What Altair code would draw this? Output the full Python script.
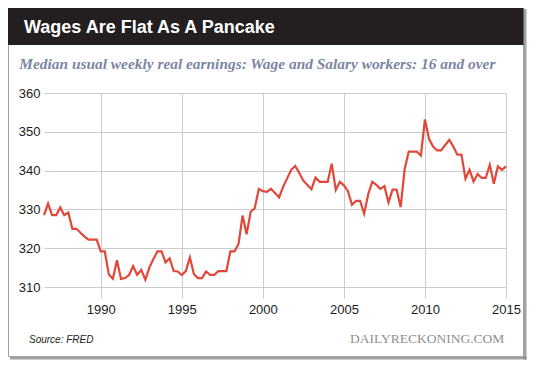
import altair as alt
import pandas as pd

# Median usual weekly real earnings, quarterly, starting 1986 Q3
start_year = 1986.5
earnings = [
    328.5, 331.5, 328.5, 328.5, 330.5, 328.5, 329.2, 325.0, 325.0, 324.0,
    323.0, 322.2, 322.2, 322.2, 319.2, 319.2, 313.2, 312.1, 316.9, 312.1,
    312.3, 313.1, 315.4, 313.1, 314.4, 311.9, 315.0, 317.2, 319.2, 319.2,
    316.3, 317.4, 314.1, 314.0, 313.1, 314.1, 317.6, 313.3, 312.3, 312.3,
    314.0, 313.1, 313.1, 314.1, 314.1, 314.1, 319.2, 319.2, 321.1, 328.4,
    323.6, 329.4, 330.3, 335.3, 334.7, 334.5, 335.3, 334.2, 333.1, 335.8,
    338.0, 340.2, 341.2, 339.4, 337.4, 336.3, 335.2, 338.2, 337.1, 337.1,
    337.1, 341.8, 335.0, 337.1, 336.2, 334.7, 331.2, 332.2, 332.2, 328.9,
    333.9, 337.1, 336.3, 335.3, 336.0, 331.8, 335.1, 335.1, 330.6, 340.4,
    344.9, 344.9, 344.9, 343.9, 353.2, 348.2, 346.2, 345.2, 345.2, 346.6,
    347.9, 346.2, 344.1, 344.1, 337.9, 340.2, 337.2, 339.1, 338.1, 338.1,
    341.5, 336.6, 341.1, 340.2, 341.1,
]
years = [start_year + 0.25 * i for i in range(len(earnings))]
x_ticks = [1990, 1995, 2000, 2005, 2010, 2015]
y_ticks = [310, 320, 330, 340, 350, 360]

title_text = "Wages Are Flat As A Pancake"
subtitle_text = "Median usual weekly real earnings: Wage and Salary workers: 16 and over"
source_text = "Source: FRED"
brand_text = "DAILYRECKONING.COM"

df = pd.DataFrame({"year": years, "earnings": earnings})

W, H = 462, 194
one = alt.Data(values=[{"k": 1}])


def rect(x, x2, y, y2, **kw):
    return alt.Chart(one).mark_rect(**kw).encode(
        x=alt.value(x), x2=alt.value(x2), y=alt.value(y), y2=alt.value(y2)
    )


def label(text, x, y, **kw):
    return alt.Chart(one).mark_text(text=text, baseline="alphabetic", **kw).encode(
        x=alt.value(x), y=alt.value(y)
    )


shadow_r = rect(479.5, 482.5, -84, 266.5, fill="#8a8a8a", opacity=0.8)
shadow_b = rect(-34, 482.5, 263.5, 266.5, fill="#8a8a8a", opacity=0.8)
card = rect(-35.5, 479.5, -88, 263.5, fill="#ffffff", fillOpacity=0, stroke="#a0a0a0", strokeWidth=1)
header = rect(-36, 479.5, -88, -48, fill="#231f20")

title = label(title_text, -20, -59.7, align="left", font="Liberation Sans",
              fontSize=18, fontWeight="bold", color="#ffffff")
subtitle = label(subtitle_text, -24.7, -23.7, align="left", font="Liberation Serif",
                 fontSize=15.4, fontWeight="bold", fontStyle="italic", color="#7b86a2")
source = label(source_text, -15, 249.7, align="left", font="Liberation Sans",
               fontSize=10, fontStyle="italic", color="#222222")
brand = label(brand_text, 460.3, 249.7, align="right", font="Liberation Serif",
              fontSize=13.5, color="#8f8f8f")

line = alt.Chart(df).mark_line(color="#e3473a", strokeWidth=2.2).encode(
    x=alt.X(
        "year:Q",
        scale=alt.Scale(domain=[1986.5, 2015], nice=False, zero=False),
        axis=alt.Axis(values=x_ticks, format="d", title=None, grid=True, domain=False,
                      ticks=True, tickSize=11, labelPadding=5, labelFlush=False),
    ),
    y=alt.Y(
        "earnings:Q",
        scale=alt.Scale(domain=[310, 360], nice=False, zero=False),
        axis=alt.Axis(values=y_ticks, title=None, grid=True, domain=False,
                      ticks=False, labelPadding=4, labelFlush=False),
    ),
)

chart = alt.layer(shadow_r, shadow_b, card, header, title, subtitle, source, brand, line).properties(
    width=W,
    height=H,
    autosize=alt.AutoSizeParams(type="none"),
    padding={"left": 36, "top": 85, "right": 26, "bottom": 75},
    background="#ffffff",
).configure_axis(
    gridColor="#cccccc",
    tickColor="#cccccc",
    gridWidth=1,
    labelFont="Liberation Sans",
    labelFontSize=13,
    labelColor="#1a1a1a",
).configure_view(strokeWidth=0)

chart.save("out.html", embed_options={"renderer": "svg", "actions": False})
